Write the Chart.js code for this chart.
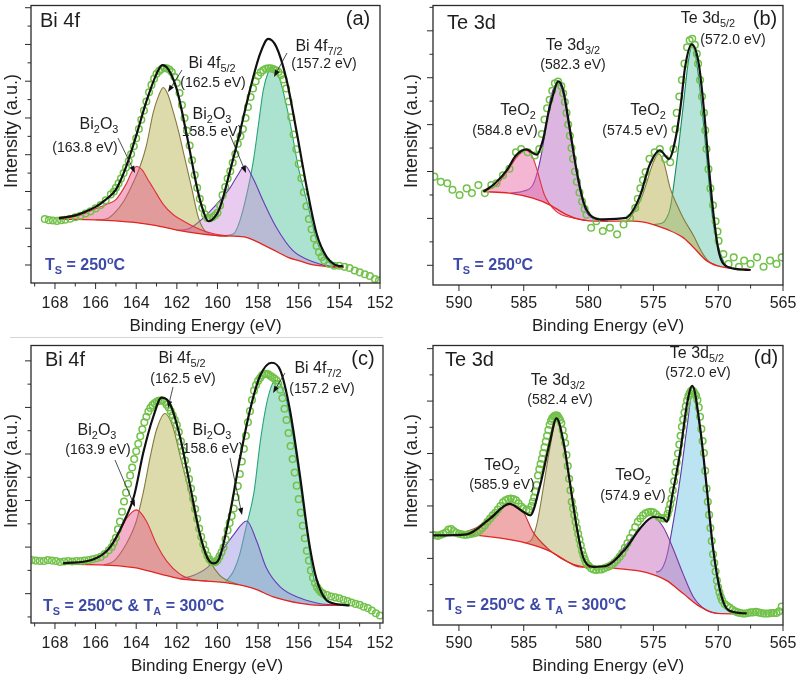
<!DOCTYPE html>
<html>
<head>
<meta charset="utf-8">
<script src="https://cdn.jsdelivr.net/npm/chart.js@4.4.0/dist/chart.umd.min.js"></script>
<style>
    html, body { margin: 0; padding: 0; background: #fff; }
    #wrap { position: relative; width: 800px; height: 680px; }
    .panel { position: absolute; width: 400px; height: 340px; }
    .rule { position: absolute; left: 10px; top: 337px; width: 373px; height: 1px; background: #d4d4d4; }
</style>
</head>
<body>
<div id="wrap">
    <div class="panel" style="left:0;top:0"><canvas id="chart-a" width="400" height="340"></canvas></div>
    <div class="panel" style="left:400px;top:0"><canvas id="chart-b" width="400" height="340"></canvas></div>
    <div class="panel" style="left:0;top:340px"><canvas id="chart-c" width="400" height="340"></canvas></div>
    <div class="panel" style="left:400px;top:340px"><canvas id="chart-d" width="400" height="340"></canvas></div>
    <div class="rule"></div>
</div>
<script>
// Points are [binding energy (eV), intensity (a.u.)]

// (a) Bi 4f, Ts = 250 C
const aMeasured = [[168.5,1.25],[168.3,1.22],[168.1,1.21],[167.9,1.2],[167.7,1.22],[167.5,1.23],[167.25,1.26],[167,1.3],[166.75,1.34],[166.5,1.4],[166.25,1.46],[166,1.54],[165.75,1.63],[165.5,1.76],[165.25,1.92],[165.1,2.0],[165,2.1],[164.87,2.22],[164.75,2.35],[164.62,2.5],[164.5,2.65],[164.37,2.83],[164.25,3.02],[164.12,3.23],[164,3.45],[163.87,3.7],[163.75,3.95],[163.62,4.2],[163.5,4.45],[163.37,4.7],[163.25,4.9],[163.12,5.07],[163,5.2],[162.87,5.28],[162.75,5.33],[162.62,5.36],[162.5,5.35],[162.37,5.32],[162.25,5.25],[162.12,5.12],[162,4.95],[161.87,4.68],[161.75,4.35],[161.62,4.0],[161.5,3.65],[161.37,3.25],[161.25,2.85],[161.12,2.45],[161,2.1],[160.87,1.8],[160.75,1.55],[160.62,1.38],[160.5,1.28],[160.37,1.27],[160.25,1.3],[160.12,1.35],[160,1.42],[159.87,1.62],[159.75,1.9],[159.62,2.12],[159.5,2.35],[159.37,2.55],[159.25,2.78],[159.12,3.02],[159,3.3],[158.87,3.5],[158.75,3.7],[158.62,4.0],[158.5,4.3],[158.37,4.57],[158.25,4.8],[158.12,5.0],[158,5.15],[157.87,5.24],[157.75,5.3],[157.62,5.34],[157.5,5.35],[157.37,5.35],[157.25,5.33],[157.12,5.3],[157,5.25],[156.87,5.17],[156.75,5.05],[156.62,4.8],[156.5,4.45],[156.37,4.02],[156.25,3.55],[156.12,3.15],[156,2.75],[155.87,2.36],[155.75,1.98],[155.62,1.6],[155.5,1.25],[155.37,0.97],[155.25,0.72],[155.12,0.52],[155,0.35],[154.87,0.22],[154.75,0.12],[154.5,0.03],[154.25,-0.02],[154,-0.02],[153.75,-0.05],[153.5,-0.08],[153.25,-0.15],[153,-0.2],[152.75,-0.25],[152.5,-0.3],[152.25,-0.38],[152.05,-0.42]];
const aEnvelope = [[167.8,1.27],[167,1.35],[166.5,1.45],[166,1.58],[165.5,1.78],[165,2.05],[164.5,2.67],[164,3.52],[163.5,4.45],[163,5.2],[162.72,5.44],[162.45,5.35],[162,4.77],[161.5,3.5],[161,2.09],[160.7,1.47],[160.45,1.19],[160.1,1.33],[159.88,1.56],[159.39,2.54],[158.9,3.61],[158.4,4.77],[157.9,5.75],[157.5,6.15],[157.1,5.93],[156.6,5.04],[156.1,3.61],[155.6,2.09],[155.12,0.85],[154.63,0.22],[154.2,0.0],[153.8,-0.04]];
const aBackground = [[167.8,1.24],[167,1.24],[166,1.23],[165,1.2],[164,1.15],[163,1.07],[162,0.95],[161,0.86],[160,0.8],[159,0.78],[158.5,0.74],[158,0.62],[157.5,0.48],[157,0.34],[156.5,0.2],[156,0.12],[155.5,0.03],[155,-0.02],[154.5,-0.05],[153.8,-0.07]];
const aOxideHigh = [[167.8,1.25],[167,1.32],[166.5,1.41],[166,1.53],[165.5,1.64],[165,1.78],[164.5,2.2],[164.2,2.55],[163.98,2.68],[163.7,2.58],[163.4,2.3],[163.16,2.09],[162.67,1.65],[162.2,1.38],[161.85,1.25],[161,1.0],[160.2,0.85],[159.5,0.79]];
const aBi4f52 = [[166,1.23],[165.5,1.25],[165.1,1.4],[164.6,1.75],[164.1,2.3],[163.8,2.7],[163.5,3.25],[163.16,4.15],[162.9,4.6],[162.67,4.83],[162.45,4.65],[162.17,4.15],[161.9,3.6],[161.68,3.07],[161.27,2.09],[160.94,1.29],[160.53,0.88],[160,0.8],[159.5,0.78]];
const aOxideLow = [[162,0.95],[161.5,0.97],[160.86,1.2],[160.2,1.56],[159.39,2.09],[159,2.45],[158.65,2.7],[158.25,2.36],[157.75,1.74],[157.1,1.02],[156.3,0.4],[155.3,0.09],[154.5,-0.03],[153.8,-0.06]];
const aBi4f72 = [[159.6,0.8],[159.2,0.85],[158.9,1.2],[158.56,1.92],[158.24,2.81],[158,3.75],[157.74,4.77],[157.5,5.25],[157.33,5.39],[157.1,5.25],[156.92,5.04],[156.43,3.88],[156,2.6],[155.6,1.74],[155.12,0.67],[154.6,0.12],[154,-0.05],[153.8,-0.07]];

// (b) Te 3d, Ts = 250 C
const bMeasured = [[591.9,1.89],[591.4,1.78],[590.9,1.75],[590.5,1.61],[589.95,1.5],[589.4,1.64],[589,1.54],[588.5,1.71],[588,1.54],[587.5,1.71],[587.1,1.75],[586.6,1.92],[586.1,2.06],[585.6,2.41],[585.2,2.48],[584.7,2.41],[584.15,2.34],[583.8,2.48],[583.6,2.8],[583.4,3.11],[583.2,3.35],[583,3.53],[582.8,3.72],[582.6,3.88],[582.35,3.92],[582.1,3.82],[581.96,3.67],[581.83,3.48],[581.7,3.25],[581.57,3.0],[581.44,2.76],[581.32,2.5],[581.2,2.27],[581.05,2.0],[580.9,1.78],[580.7,1.55],[580.5,1.36],[580.3,1.2],[580.15,1.08],[579.8,0.8],[579.4,0.94],[578.9,0.73],[578.35,0.8],[577.8,0.66],[577.3,0.87],[576.8,1.01],[576.4,1.22],[576.2,1.42],[576,1.64],[575.8,1.82],[575.6,1.99],[575.3,2.27],[574.9,2.41],[574.5,2.48],[574.1,2.27],[573.7,2.2],[573.45,2.48],[573.3,2.9],[573.2,3.25],[573,3.6],[572.8,3.95],[572.6,4.3],[572.4,4.65],[572.2,4.8],[572,4.83],[571.8,4.7],[571.65,4.51],[571.55,4.3],[571.4,3.95],[571.25,3.6],[571.1,3.25],[571,2.88],[570.9,2.48],[570.75,2.05],[570.6,1.64],[570.4,1.28],[570.2,0.94],[570.05,0.72],[569.97,0.52],[569.6,0.24],[569.2,0.03],[568.8,0.17],[568.4,-0.03],[568,0.1],[567.5,0.03],[567,0.17],[566.5,-0.03],[566,0.1],[565.5,0.03],[565.1,0.17]];
const bEnvelope = [[588.1,1.57],[587.2,1.75],[586.3,2.03],[585.6,2.34],[584.8,2.47],[584,2.36],[583.5,2.69],[583.1,3.25],[582.7,3.67],[582.35,3.92],[581.96,3.74],[581.44,2.9],[580.9,1.99],[580.4,1.36],[579.9,1.08],[578.9,0.98],[577.1,1.01],[576.5,1.2],[576,1.5],[575.3,2.13],[574.5,2.45],[573.8,2.27],[573.3,2.69],[572.9,3.39],[572.55,4.23],[572.04,4.71],[571.5,4.3],[571.1,3.32],[570.75,2.2],[570.36,1.08],[569.97,0.31],[569.3,-0.03],[567.5,-0.1]];
const bBackground = [[588.14,1.57],[586.1,1.54],[584.3,1.43],[583,1.29],[581.7,1.08],[580.7,0.98],[579.1,0.94],[576.5,0.94],[575,0.87],[574,0.77],[572.7,0.59],[571.9,0.38],[570.9,0.1],[569.8,-0.03],[567.5,-0.09]];
const bTeO2High = [[588.1,1.57],[587.1,1.71],[586.3,1.99],[585.5,2.32],[584.8,2.45],[584.3,2.3],[584,2.06],[583.4,1.5],[582.5,1.15],[581.2,1.01],[580.2,0.96]];
const bTe3d32 = [[586,1.54],[585.05,1.58],[584.3,1.71],[583.76,2.2],[583.4,2.75],[582.9,3.6],[582.34,3.88],[581.9,3.6],[581.7,3.25],[581.2,2.41],[580.7,1.64],[580.2,1.15],[579.4,0.98],[578.5,0.94]];
const bTeO2Low = [[577,0.94],[576.3,1.22],[575.9,1.45],[575.5,1.78],[575,2.2],[574.6,2.38],[574.2,2.2],[573.7,1.64],[573.2,1.3],[572.7,1.01],[571.9,0.63],[571.3,0.3],[570.8,0.1],[570.2,0.0]];
const bTe3d52 = [[575,0.87],[574.3,0.9],[574,1.0],[573.7,1.22],[573.2,2.2],[572.7,3.39],[572.3,4.35],[572,4.69],[571.7,4.4],[571.4,3.74],[570.9,2.34],[570.4,0.94],[569.8,0.24],[569.3,-0.03],[568.5,-0.08],[567.5,-0.09]];

// (c) Bi 4f, Ts = 250 C & Ta = 300 C
const cMeasured = [[169.15,0.72],[168.95,0.71],[168.75,0.7],[168.55,0.7],[168.35,0.72],[168.15,0.71],[167.95,0.7],[167.75,0.68],[167.55,0.69],[167.35,0.7],[167.15,0.69],[166.95,0.7],[166.75,0.7],[166.55,0.71],[166.35,0.72],[166.15,0.74],[165.95,0.76],[165.75,0.79],[165.55,0.85],[165.35,0.93],[165.2,1.0],[165.1,1.1],[165,1.2],[164.9,1.38],[164.8,1.55],[164.7,1.76],[164.6,1.98],[164.5,2.17],[164.4,2.36],[164.3,2.54],[164.2,2.71],[164.1,2.89],[164,3.06],[163.9,3.22],[163.8,3.38],[163.7,3.53],[163.6,3.68],[163.5,3.8],[163.4,3.91],[163.3,3.99],[163.2,4.05],[163.1,4.09],[163,4.12],[162.9,4.14],[162.8,4.15],[162.7,4.15],[162.6,4.12],[162.5,4.06],[162.4,4.0],[162.3,3.92],[162.2,3.83],[162.1,3.73],[162,3.62],[161.9,3.47],[161.8,3.27],[161.7,3.07],[161.6,2.86],[161.5,2.66],[161.4,2.46],[161.3,2.26],[161.2,2.04],[161.1,1.82],[161,1.61],[160.9,1.4],[160.8,1.22],[160.7,1.06],[160.6,0.93],[160.5,0.82],[160.4,0.74],[160.3,0.69],[160.2,0.67],[160.1,0.68],[160,0.72],[159.9,0.8],[159.8,0.89],[159.7,0.99],[159.6,1.17],[159.5,1.36],[159.4,1.52],[159.3,1.67],[159.2,1.83],[159.1,2.07],[159,2.31],[158.9,2.57],[158.8,2.84],[158.7,3.11],[158.6,3.39],[158.5,3.68],[158.4,3.92],[158.3,4.16],[158.2,4.36],[158.1,4.48],[158,4.57],[157.9,4.63],[157.8,4.69],[157.7,4.72],[157.6,4.72],[157.5,4.71],[157.4,4.68],[157.3,4.65],[157.2,4.62],[157.1,4.58],[157,4.5],[156.9,4.38],[156.8,4.2],[156.7,3.97],[156.6,3.73],[156.5,3.45],[156.4,3.17],[156.3,2.89],[156.2,2.6],[156.1,2.32],[156,2.03],[155.9,1.74],[155.8,1.46],[155.7,1.19],[155.6,0.92],[155.5,0.71],[155.4,0.5],[155.3,0.34],[155.2,0.23],[155.1,0.14],[155,0.08],[154.9,0.03],[154.8,0.0],[154.6,-0.03],[154.4,-0.06],[154.2,-0.08],[154,-0.1],[153.8,-0.13],[153.6,-0.16],[153.4,-0.19],[153.2,-0.22],[153,-0.24],[152.8,-0.28],[152.6,-0.31],[152.4,-0.36],[152.2,-0.42],[152,-0.47]];
const cEnvelope = [[167.6,0.65],[166.1,0.74],[165.3,0.99],[164.6,1.55],[164.1,2.11],[163.65,3.03],[163.16,3.8],[162.75,4.21],[162.34,4.08],[161.85,3.38],[161.35,2.32],[160.86,1.27],[160.5,0.77],[160.2,0.65],[159.9,0.77],[159.4,1.69],[158.9,2.89],[158.4,3.94],[157.9,4.68],[157.33,4.96],[156.9,4.79],[156.43,3.94],[155.94,2.54],[155.5,1.13],[155.1,0.28],[154.5,-0.18],[153.5,-0.25]];
const cBackground = [[167.6,0.63],[165.8,0.62],[164.1,0.56],[162.8,0.42],[161.85,0.32],[160.5,0.27],[159.2,0.21],[158.2,0.11],[157.25,-0.07],[155.9,-0.21],[154.95,-0.25],[153.5,-0.25]];
const cOxideHigh = [[167.6,0.64],[166.3,0.7],[165.8,0.8],[165.46,0.92],[164.96,1.2],[164.47,1.62],[163.98,1.8],[163.49,1.55],[163,1.06],[162.5,0.7],[161.85,0.42],[161.2,0.3],[160.5,0.27]];
const cBi4f52 = [[165.6,0.62],[165.1,0.7],[164.5,1.06],[164,1.55],[163.65,2.18],[163.3,2.96],[163,3.52],[162.58,3.87],[162.2,3.59],[161.8,2.89],[161.35,2.11],[160.86,1.27],[160.37,0.7],[159.9,0.4],[159.5,0.28],[159,0.2]];
const cOxideLow = [[161.85,0.32],[161.2,0.39],[160.5,0.56],[159.9,0.85],[159.2,1.27],[158.56,1.56],[158.07,1.13],[157.6,0.56],[156.9,0.14],[155.9,-0.1],[155,-0.21],[154,-0.25]];
const cBi4f72 = [[159.6,0.25],[159.2,0.49],[158.9,0.85],[158.6,1.41],[158.2,2.18],[157.9,3.24],[157.58,4.08],[157.3,4.5],[157.1,4.58],[156.85,4.45],[156.6,4.15],[156.27,3.38],[155.94,2.39],[155.6,1.34],[155.3,0.42],[154.95,0.0],[154.3,-0.21],[153.8,-0.25]];

// (d) Te 3d, Ts = 250 C & Ta = 300 C
const dMeasured = [[592,1.45],[591.8,1.44],[591.6,1.43],[591.4,1.45],[591.2,1.47],[591,1.5],[590.8,1.55],[590.6,1.56],[590.4,1.52],[590.2,1.49],[590,1.47],[589.8,1.46],[589.6,1.45],[589.4,1.45],[589.2,1.46],[589,1.47],[588.8,1.48],[588.6,1.5],[588.4,1.53],[588.2,1.58],[588,1.63],[587.8,1.7],[587.6,1.76],[587.4,1.82],[587.2,1.87],[587,1.93],[586.8,2.0],[586.6,2.07],[586.4,2.11],[586.2,2.13],[586,2.14],[585.8,2.13],[585.6,2.11],[585.4,2.05],[585.2,1.99],[585,1.95],[584.8,1.92],[584.6,1.93],[584.4,2.0],[584.3,2.08],[584.2,2.16],[584.1,2.27],[584,2.4],[583.9,2.58],[583.8,2.7],[583.7,2.8],[583.6,2.9],[583.5,3.01],[583.4,3.12],[583.3,3.23],[583.2,3.34],[583.1,3.45],[583,3.55],[582.9,3.62],[582.8,3.67],[582.7,3.7],[582.6,3.72],[582.5,3.73],[582.4,3.72],[582.3,3.68],[582.2,3.64],[582.1,3.58],[582,3.45],[581.9,3.33],[581.8,3.2],[581.7,2.97],[581.6,2.76],[581.5,2.52],[581.4,2.3],[581.3,2.08],[581.2,1.95],[581.1,1.83],[581,1.7],[580.9,1.58],[580.8,1.47],[580.7,1.36],[580.6,1.25],[580.5,1.14],[580.4,1.06],[580.3,0.99],[580.2,0.92],[580,0.86],[579.8,0.81],[579.6,0.79],[579.4,0.78],[579.2,0.79],[579,0.79],[578.8,0.81],[578.6,0.83],[578.4,0.85],[578.2,0.88],[578,0.92],[577.8,0.97],[577.6,1.03],[577.4,1.1],[577.2,1.2],[577,1.29],[576.8,1.39],[576.6,1.49],[576.4,1.6],[576.2,1.7],[576,1.76],[575.8,1.82],[575.6,1.86],[575.4,1.88],[575.2,1.89],[575,1.88],[574.8,1.84],[574.6,1.79],[574.4,1.77],[574.2,1.76],[574,1.78],[573.9,1.85],[573.8,1.93],[573.7,2.03],[573.6,2.14],[573.5,2.3],[573.4,2.47],[573.3,2.65],[573.2,2.83],[573.1,3.0],[573,3.17],[572.9,3.34],[572.8,3.51],[572.7,3.65],[572.6,3.78],[572.5,3.9],[572.4,4.01],[572.3,4.09],[572.2,4.15],[572.1,4.19],[572,4.2],[571.9,4.18],[571.8,4.14],[571.7,4.1],[571.6,4.02],[571.5,3.88],[571.4,3.7],[571.3,3.47],[571.2,3.24],[571.1,3.01],[571,2.67],[570.9,2.33],[570.8,2.08],[570.7,1.83],[570.6,1.58],[570.5,1.33],[570.4,1.08],[570.3,0.91],[570.2,0.75],[570.1,0.58],[570,0.45],[569.9,0.35],[569.8,0.27],[569.7,0.2],[569.5,0.13],[569.3,0.09],[569.1,0.06],[568.9,0.02],[568.7,-0.01],[568.5,-0.03],[568.3,-0.04],[568.1,-0.05],[567.9,-0.05],[567.7,-0.04],[567.5,-0.03],[567.3,-0.03],[567.1,-0.02],[566.9,-0.03],[566.7,-0.04],[566.5,-0.05],[566.3,-0.05],[566.1,-0.05],[565.9,-0.04],[565.7,-0.04],[565.5,-0.04],[565.3,-0.01],[565.1,0.08]];
const dEnvelope = [[592,1.44],[589.4,1.46],[587.6,1.76],[586.1,2.04],[585.05,1.89],[584.5,1.82],[583.8,2.33],[583,3.2],[582.47,3.67],[581.96,3.26],[581.44,2.45],[580.9,1.58],[580.4,1.01],[579.6,0.84],[578.6,0.86],[577.1,1.2],[576,1.58],[575,1.79],[574.2,1.76],[573.97,1.7],[573.5,2.26],[572.9,3.08],[572.4,3.95],[572,4.29],[571.4,3.51],[570.9,2.39],[570.4,1.2],[569.8,0.33],[569.2,0.01],[567.8,-0.05]];
const dBackground = [[592,1.45],[589.4,1.45],[586.9,1.39],[584.8,1.29],[583,1.14],[581.7,0.95],[580.7,0.84],[579.1,0.83],[577.1,0.79],[575.5,0.73],[574,0.58],[572.7,0.33],[571.4,0.08],[570.1,-0.05],[568,-0.06]];
const dTeO2High = [[589.9,1.48],[588.7,1.58],[587.4,1.83],[586.1,2.03],[585.05,1.89],[584.3,1.51],[583.2,1.2],[582.2,1.01],[581.2,0.89],[580.4,0.84]];
const dTe3d32 = [[585,1.3],[584.5,1.33],[584,1.64],[583.5,2.33],[583,3.08],[582.47,3.64],[581.96,3.2],[581.44,2.45],[580.9,1.58],[580.4,1.01],[579.6,0.86],[578.8,0.83]];
const dTeO2Low = [[578.9,0.83],[578.1,0.95],[577.1,1.26],[576,1.58],[575,1.79],[574.2,1.58],[573.5,1.2],[572.7,0.7],[571.9,0.26],[570.9,0.01],[570,-0.05]];
const dTe3d52 = [[574.8,0.74],[574.5,0.76],[574,1.01],[573.5,1.64],[572.9,2.58],[572.4,3.51],[572,4.14],[571.4,3.45],[570.9,2.39],[570.4,1.2],[569.8,0.33],[569.2,0.01],[568,-0.05]];

const FONT = '"Liberation Sans", Arial, sans-serif';
const TEXT = '#1e1e1e';
const SAMPLE_BLUE = '#3d4aa8';

const xy = pts => pts.map(([x, y]) => ({ x, y }));

// text with sub/superscripts: '_x' is subscript, '^x' superscript
function drawRich(ctx, parts, x, y, size, align, color, weight) {
    const pieces = parts.map(p => {
        let kind = '', t = p;
        if (p[0] === '_' || p[0] === '^') { kind = p[0]; t = p.slice(1); }
        const s = kind ? size * 0.68 : size;
        ctx.font = `${weight || 'normal'} ${s}px ${FONT}`;
        return { t, kind, s, w: ctx.measureText(t).width };
    });
    const total = pieces.reduce((a, p) => a + p.w, 0);
    let cx = align === 'center' ? x - total / 2 : x;
    ctx.fillStyle = color || TEXT;
    ctx.textAlign = 'left';
    ctx.textBaseline = 'alphabetic';
    pieces.forEach(p => {
        ctx.font = `${weight || 'normal'} ${p.s}px ${FONT}`;
        let dy = 0;
        if (p.kind === '_') dy = size * 0.27;
        if (p.kind === '^') dy = -size * 0.4;
        ctx.fillText(p.t, cx, y + dy);
        cx += p.w;
    });
}

function drawArrow(ctx, x1, y1, x2, y2) {
    const ang = Math.atan2(y2 - y1, x2 - x1);
    ctx.strokeStyle = '#222';
    ctx.fillStyle = '#111';
    ctx.lineWidth = 0.8;
    ctx.beginPath();
    ctx.moveTo(x1, y1);
    ctx.lineTo(x2 - 4 * Math.cos(ang), y2 - 4 * Math.sin(ang));
    ctx.stroke();
    ctx.beginPath();
    ctx.moveTo(x2, y2);
    ctx.lineTo(x2 - 7 * Math.cos(ang) + 2.6 * Math.sin(ang), y2 - 7 * Math.sin(ang) - 2.6 * Math.cos(ang));
    ctx.lineTo(x2 - 7 * Math.cos(ang) - 2.6 * Math.sin(ang), y2 - 7 * Math.sin(ang) + 2.6 * Math.cos(ang));
    ctx.closePath();
    ctx.fill();
}

const frameAndLabels = {
    id: 'frameAndLabels',
    afterDraw(chart, args, opts) {
        const { ctx, chartArea: a, scales: { x, y } } = chart;
        ctx.save();
        ctx.strokeStyle = '#2a2a2a';
        ctx.lineWidth = 1.3;
        ctx.strokeRect(a.left, a.top, a.right - a.left, a.bottom - a.top);

        // tick marks, pointing outward
        ctx.lineWidth = 1;
        ctx.beginPath();
        for (let v = Math.ceil(x.min / opts.xMinor) * opts.xMinor; v <= x.max + 1e-6; v += opts.xMinor) {
            const px = x.getPixelForValue(v);
            const major = Math.abs(v / opts.xMajor - Math.round(v / opts.xMajor)) < 1e-6;
            ctx.moveTo(px, a.bottom);
            ctx.lineTo(px, a.bottom + (major ? 6 : 3.5));
        }
        for (let v = Math.ceil(y.min / 0.5) * 0.5; v <= y.max + 1e-6; v += 0.5) {
            const py = y.getPixelForValue(v);
            const major = Math.abs(v - Math.round(v)) < 1e-6;
            ctx.moveTo(a.left, py);
            ctx.lineTo(a.left - (major ? 6 : 3.5), py);
        }
        ctx.stroke();

        // y axis title, placed a little above the middle as in the figure
        ctx.save();
        ctx.translate(12, 131);
        ctx.rotate(-Math.PI / 2);
        ctx.font = `18px ${FONT}`;
        ctx.fillStyle = TEXT;
        ctx.textAlign = 'center';
        ctx.textBaseline = 'middle';
        ctx.fillText('Intensity (a.u.)', 0, 0);
        ctx.restore();

        opts.arrows.forEach(([x1, y1, x2, y2]) => drawArrow(ctx, x1, y1, x2, y2));
        opts.labels.forEach(l => drawRich(ctx, l.parts, l.x, l.y, l.size, l.align, l.color, l.weight));
        ctx.restore();
    }
};

function xpsChart(id, p) {
    const line = (data, color, width) => ({
        data: xy(data), borderColor: color, borderWidth: width, pointRadius: 0,
        fill: false, cubicInterpolationMode: 'monotone'
    });
    const datasets = [
        line(p.envelope, '#111', 2.2),
        {
            data: xy(p.measured), showLine: false, pointRadius: 3.3, pointBorderWidth: 1.5,
            pointBorderColor: '#72c24a', pointBackgroundColor: 'rgba(0,0,0,0)'
        },
        line(p.background, '#e5231f', 1.3),
        ...p.peaks.map(pk => ({
            ...line(pk.points, pk.line, 1.1),
            backgroundColor: pk.fill,
            fill: { target: 2 }
        }))
    ];

    return new Chart(document.getElementById(id), {
        type: 'line',
        data: { datasets },
        options: {
            responsive: false,
            animation: false,
            layout: { padding: { left: 0, top: 1, right: p.padRight, bottom: 0 } },
            plugins: {
                legend: { display: false },
                tooltip: { enabled: false },
                frameAndLabels: { xMajor: p.xMajor, xMinor: p.xMinor, arrows: p.arrows, labels: p.labels }
            },
            scales: {
                x: {
                    type: 'linear',
                    reverse: true,
                    min: p.xMin,
                    max: p.xMax,
                    grid: { display: false },
                    border: { display: false },
                    ticks: {
                        stepSize: p.xMajor, includeBounds: false, autoSkip: false, maxRotation: 0,
                        padding: p.tickPad, color: TEXT, font: { family: FONT, size: 16 },
                        callback: v => String(v)
                    },
                    title: {
                        display: true, text: 'Binding Energy (eV)', color: TEXT,
                        font: { family: FONT, size: 17 }, padding: { top: 0, bottom: 3 }
                    },
                    afterFit: s => { s.height = p.xAxisH; }
                },
                y: {
                    min: p.yMin,
                    max: p.yMax,
                    grid: { display: false },
                    border: { display: false },
                    ticks: { display: false },
                    title: { display: false },
                    afterFit: s => { s.width = p.yAxisW; }
                }
            }
        },
        plugins: [frameAndLabels]
    });
}

const bi = (x, y) => ({ parts: ['Bi 4f'], x, y, size: 20, align: 'left' });
const ts = (parts, x, y) => ({ parts, x, y, size: 16, align: 'left', color: SAMPLE_BLUE, weight: 'bold' });
const name = (parts, x, y) => ({ parts, x, y, size: 16, align: 'center' });
const energy = (text, x, y) => ({ parts: [text], x, y, size: 14, align: 'center' });
const tsOnly = ['T', '_S', ' = 250', '^o', 'C'];
const tsAnneal = ['T', '_S', ' = 250', '^o', 'C & T', '_A', ' = 300', '^o', 'C'];

xpsChart('chart-a', {
    measured: aMeasured, envelope: aEnvelope, background: aBackground,
    peaks: [
        { points: aOxideHigh, line: '#e0303a', fill: 'rgba(230,80,135,0.45)' },
        { points: aBi4f52, line: '#857a3c', fill: 'rgba(180,172,70,0.45)' },
        { points: aOxideLow, line: '#6a3ab8', fill: 'rgba(200,130,215,0.42)' },
        { points: aBi4f72, line: '#28a676', fill: 'rgba(70,190,150,0.45)' }
    ],
    xMin: 152, xMax: 169.18, xMajor: 2, xMinor: 1, yMin: -0.49, yMax: 7.06,
    padRight: 20, yAxisW: 31, xAxisH: 57, tickPad: 3,
    arrows: [[118, 138, 135, 173], [182, 70, 168, 92], [230, 135, 246, 173], [287, 53, 274, 77]],
    labels: [
        bi(40, 27), { parts: ['(a)'], x: 358, y: 25, size: 20, align: 'center' },
        name(['Bi 4f', '_5/2'], 212, 68), energy('(162.5 eV)', 213, 87),
        name(['Bi 4f', '_7/2'], 319, 51), energy('(157.2 eV)', 324, 68),
        name(['Bi', '_2', 'O', '_3'], 99, 129), energy('(163.8 eV)', 85, 152),
        name(['Bi', '_2', 'O', '_3'], 212, 119), energy('158.5 eV)', 212, 136),
        ts(tsOnly, 45, 270)
    ]
});

xpsChart('chart-b', {
    measured: bMeasured, envelope: bEnvelope, background: bBackground,
    peaks: [
        { points: bTeO2High, line: '#e2303c', fill: 'rgba(235,110,170,0.5)' },
        { points: bTe3d32, line: '#6a32a4', fill: 'rgba(185,110,195,0.5)' },
        { points: bTeO2Low, line: '#857a3c', fill: 'rgba(185,175,80,0.5)' },
        { points: bTe3d52, line: '#1a8a60', fill: 'rgba(95,195,170,0.45)' }
    ],
    xMin: 565, xMax: 592, xMajor: 5, xMinor: 2.5, yMin: -0.42, yMax: 5.54,
    padRight: 17, yAxisW: 33, xAxisH: 55, tickPad: 1,
    arrows: [],
    labels: [
        { parts: ['Te 3d'], x: 47, y: 29, size: 20, align: 'left' },
        { parts: ['(b)'], x: 365, y: 25, size: 20, align: 'center' },
        name(['Te 3d', '_5/2'], 308, 23), energy('(572.0 eV)', 333, 44),
        name(['Te 3d', '_3/2'], 173, 50), energy('(582.3 eV)', 173, 69),
        name(['TeO', '_2'], 118, 115), energy('(584.8 eV)', 105, 135),
        name(['TeO', '_2'], 248, 115), energy('(574.5 eV)', 235, 135),
        ts(tsOnly, 53, 270)
    ]
});

xpsChart('chart-c', {
    measured: cMeasured, envelope: cEnvelope, background: cBackground,
    peaks: [
        { points: cOxideHigh, line: '#e0303a', fill: 'rgba(230,80,135,0.45)' },
        { points: cBi4f52, line: '#857a3c', fill: 'rgba(180,172,70,0.45)' },
        { points: cOxideLow, line: '#6a3ab8', fill: 'rgba(150,140,225,0.45)' },
        { points: cBi4f72, line: '#28a676', fill: 'rgba(70,190,150,0.45)' }
    ],
    xMin: 151.85, xMax: 169.18, xMajor: 2, xMinor: 1, yMin: -0.63, yMax: 5.33,
    padRight: 17, yAxisW: 31, xAxisH: 57, tickPad: 3,
    arrows: [[115, 120, 135, 167], [173, 47, 168, 68], [230, 118, 242, 175], [285, 33, 273, 53]],
    labels: [
        bi(45, 26), { parts: ['(c)'], x: 363, y: 25, size: 20, align: 'center' },
        name(['Bi 4f', '_5/2'], 182, 23), energy('(162.5 eV)', 183, 43),
        name(['Bi 4f', '_7/2'], 318, 33), energy('(157.2 eV)', 322, 53),
        name(['Bi', '_2', 'O', '_3'], 97, 95), energy('(163.9 eV)', 98, 114),
        name(['Bi', '_2', 'O', '_3'], 212, 95), energy('158.6 eV)', 213, 113),
        ts(tsAnneal, 43, 271)
    ]
});

xpsChart('chart-d', {
    measured: dMeasured, envelope: dEnvelope, background: dBackground,
    peaks: [
        { points: dTeO2High, line: '#c83232', fill: 'rgba(225,90,90,0.5)' },
        { points: dTe3d32, line: '#857a3c', fill: 'rgba(185,180,110,0.5)' },
        { points: dTeO2Low, line: '#7a3aa0', fill: 'rgba(200,110,190,0.5)' },
        { points: dTe3d52, line: '#5a3aa8', fill: 'rgba(120,200,230,0.5)' }
    ],
    xMin: 565, xMax: 592, xMajor: 5, xMinor: 2.5, yMin: -0.27, yMax: 5.06,
    padRight: 17, yAxisW: 33, xAxisH: 55, tickPad: 1,
    arrows: [],
    labels: [
        { parts: ['Te 3d'], x: 45, y: 26, size: 20, align: 'left' },
        { parts: ['(d)'], x: 366, y: 24, size: 20, align: 'center' },
        name(['Te 3d', '_5/2'], 297, 18), energy('(572.0 eV)', 298, 37),
        name(['Te 3d', '_3/2'], 158, 45), energy('(582.4 eV)', 160, 64),
        name(['TeO', '_2'], 102, 130), energy('(585.9 eV)', 102, 149),
        name(['TeO', '_2'], 233, 140), energy('(574.9 eV)', 233, 160),
        ts(tsAnneal, 45, 270)
    ]
});
</script>
</body>
</html>
